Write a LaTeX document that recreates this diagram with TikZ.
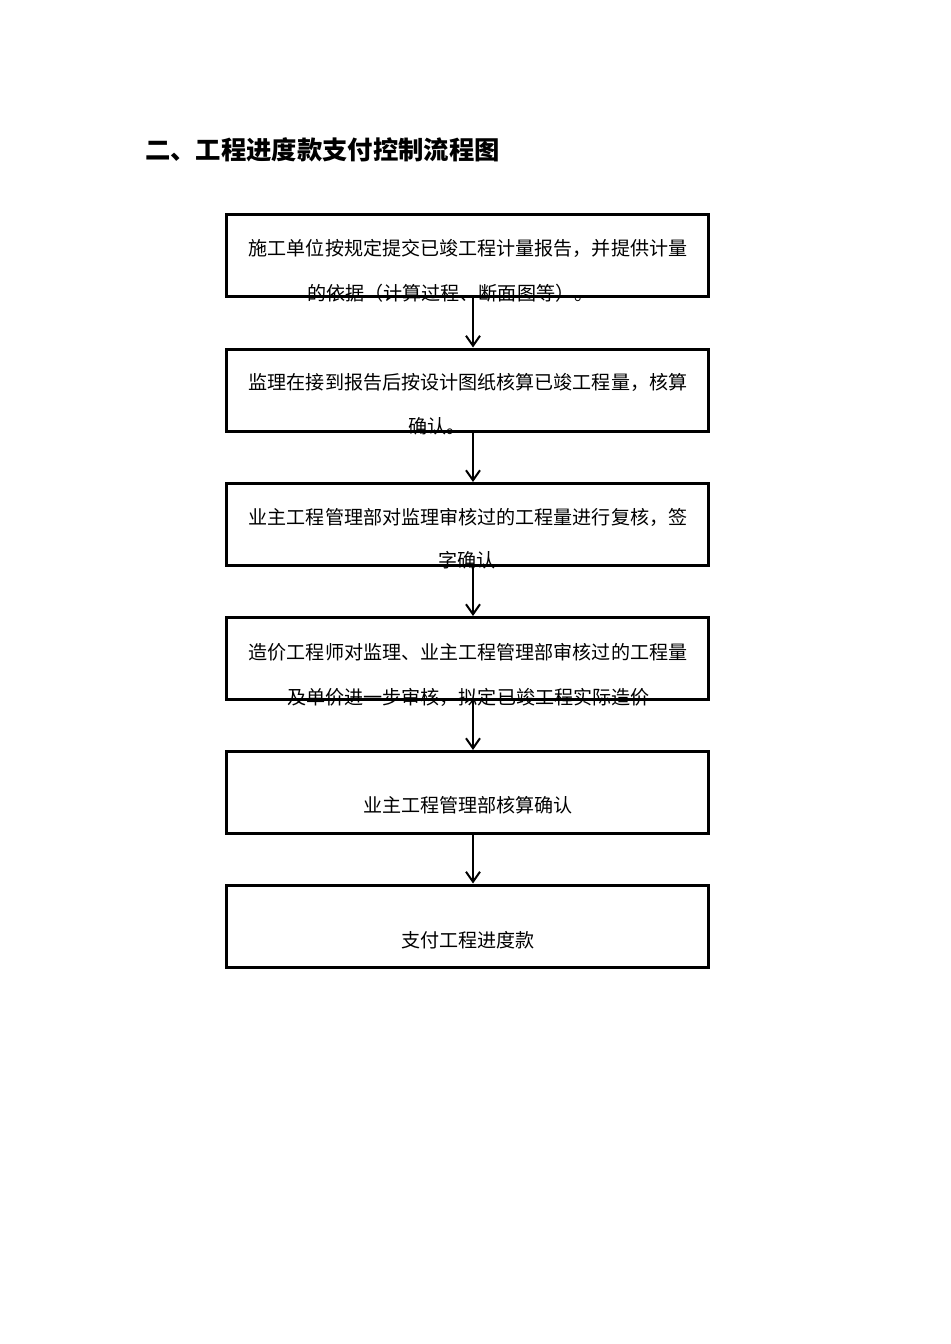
\documentclass[tikz,border=0pt]{standalone}
\usepackage{fontspec}
\newfontfamily\cjk{Noto Sans CJK SC}
\usetikzlibrary{arrows.meta}
\tikzset{
  x=0.75pt, y=-0.75pt,
  stepbox/.style={draw=black, line width=2.25pt, minimum width=361.5pt, minimum height=61.5pt, inner sep=0pt},
  txt/.style={inner sep=0pt, font=\cjk\fontsize{14.3pt}{16pt}\selectfont},
  arr/.style={line width=1.5pt, -{Straight Barb[length=7.5pt,width=10.5pt,line width=1.5pt]}},
}
\begin{document}
\begin{tikzpicture}
\useasboundingbox[fill=white] (0,0) rectangle (950,1344);
\node[anchor=west, inner sep=0pt, font=\cjk\bfseries\fontsize{19pt}{22pt}\selectfont] (title) at (145,150) {二、工程进度款支付控制流程图};

% texts
\node[txt] (t1a) at (468,248) {施工单位按规定提交已竣工程计量报告，并提供计量};
\node[txt, anchor=west] (t1b) at (307,293) {的依据（计算过程、断面图等）。};
\node[txt] (t2a) at (468,382) {监理在接到报告后按设计图纸核算已竣工程量，核算};
\node[txt, anchor=west] (t2b) at (408,426) {确认。};
\node[txt] (t3a) at (468,517) {业主工程管理部对监理审核过的工程量进行复核，签};
\node[txt, anchor=west] (t3b) at (438,560) {字确认};
\node[txt] (t4a) at (468,652) {造价工程师对监理、业主工程管理部审核过的工程量};
\node[txt, anchor=west] (t4b) at (287,697) {及单价进一步审核，拟定已竣工程实际造价};
\node[txt] (t5) at (468,805) {业主工程管理部核算确认};
\node[txt] (t6) at (468,940) {支付工程进度款};

% boxes
\node[stepbox] (b1) at (467,256) {};
\node[stepbox] (b2) at (467,390) {};
\node[stepbox] (b3) at (467,524.5) {};
\node[stepbox] (b4) at (467,658.5) {};
\node[stepbox] (b5) at (467,792.5) {};
\node[stepbox] (b6) at (467,926) {};

\coordinate (ax) at (473,0);
\draw[arr] (b1.south -| ax) -- (b2.north -| ax);
\draw[arr] (b2.south -| ax) -- (b3.north -| ax);
\draw[arr] (b3.south -| ax) -- (b4.north -| ax);
\draw[arr] (b4.south -| ax) -- (b5.north -| ax);
\draw[arr] (b5.south -| ax) -- (b6.north -| ax);
\end{tikzpicture}
\end{document}
